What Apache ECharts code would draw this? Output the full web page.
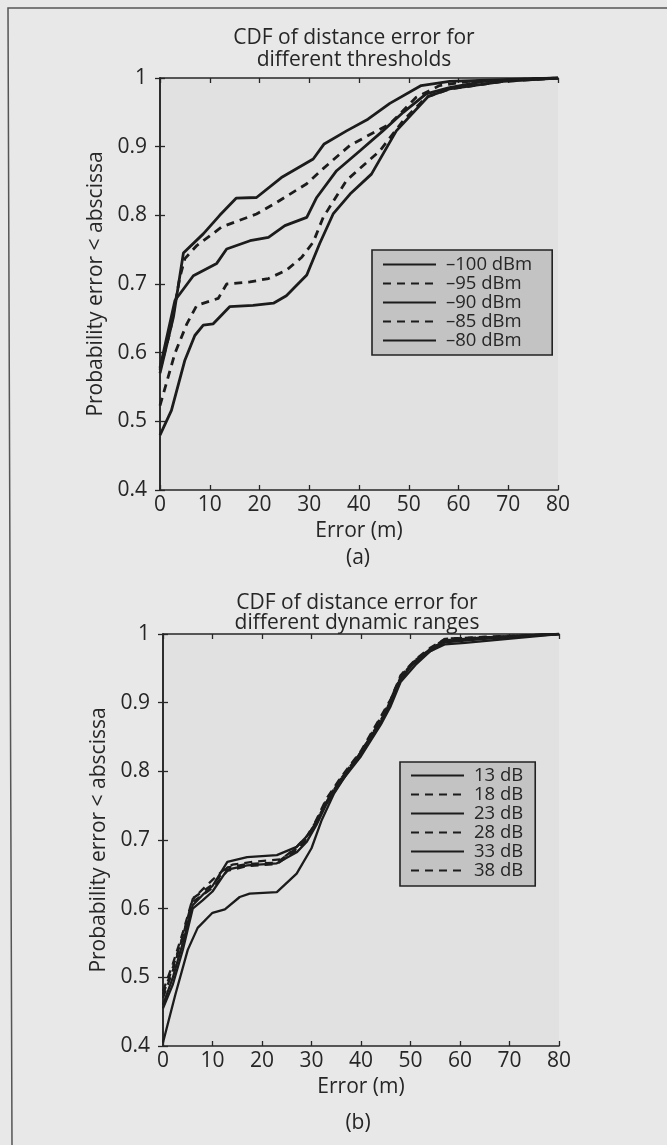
<!DOCTYPE html>
<html><head><meta charset="utf-8">
<script src="https://cdn.jsdelivr.net/npm/echarts@6/dist/echarts.min.js"></script>
<style>html,body{margin:0;padding:0;background:#e8e8e8}#c{width:667px;height:1145px}</style>
</head><body><div id="c"></div><script>
// ---- Data ----
const xTickValues = [0, 10, 20, 30, 40, 50, 60, 70, 80];
const yTickValues = [0.4, 0.5, 0.6, 0.7, 0.8, 0.9, 1];

const thresholdNames = ['–100 dBm', '–95 dBm', '–90 dBm', '–85 dBm', '–80 dBm'];
const thr100 = [[0,0.57],[2.7,0.652],[4.7,0.745],[8.7,0.773],[12,0.80],[15.3,0.825],[19.4,0.826],[24.4,0.855],[30.8,0.882],[33,0.904],[37.5,0.923],[41.8,0.94],[46.2,0.963],[52.5,0.989],[58.2,0.995],[80,1.0]];
const thr95 = [[0,0.575],[2,0.63],[4,0.71],[5,0.737],[7.4,0.756],[12.4,0.783],[19.4,0.802],[22.8,0.816],[29.5,0.846],[32.8,0.868],[38.2,0.902],[46.2,0.933],[51.5,0.972],[56.2,0.989],[62,0.995],[80,1.0]];
const thr90 = [[0,0.578],[3,0.676],[6.7,0.712],[11.4,0.73],[13.4,0.751],[18.1,0.763],[21.8,0.768],[25.1,0.785],[29.5,0.797],[31.5,0.826],[35.5,0.865],[40.2,0.894],[44.8,0.923],[48.9,0.95],[53.5,0.977],[58.2,0.986],[65,0.995],[80,1.0]];
const thr85 = [[0,0.523],[3,0.599],[5.4,0.642],[7.4,0.669],[11.7,0.679],[13.4,0.70],[18.1,0.703],[21.8,0.708],[25.4,0.72],[28.5,0.739],[30.8,0.761],[32.8,0.797],[37.5,0.851],[44.2,0.894],[48.9,0.938],[53.5,0.972],[58.2,0.984],[69,0.995],[80,1.0]];
const thr80 = [[0,0.48],[2.3,0.516],[5,0.589],[7,0.625],[8.7,0.64],[10.7,0.642],[14,0.667],[18.7,0.669],[22.8,0.672],[25.4,0.683],[29.5,0.713],[32.1,0.759],[34.8,0.802],[38.2,0.831],[42.5,0.86],[47.5,0.923],[53.9,0.973],[58.2,0.984],[69,0.995],[80,1.0]];

const rangeNames = ['13 dB', '18 dB', '23 dB', '28 dB', '33 dB', '38 dB'];
const dr13 = [[0,0.405],[2.5,0.475],[5,0.54],[7,0.572],[10,0.594],[12.5,0.599],[15.5,0.617],[17.5,0.622],[23,0.624],[27,0.651],[30,0.688],[32,0.728],[34.5,0.767],[38,0.806],[41,0.84],[44.5,0.878],[47,0.922],[50,0.953],[54,0.975],[57,0.985],[61,0.987],[80,1.0]];
const dr18 = [[0,0.47],[2,0.51],[4,0.56],[6,0.614],[8,0.628],[10,0.642],[12,0.655],[14,0.664],[18,0.668],[24,0.672],[27,0.69],[29,0.705],[31,0.728],[33,0.755],[36,0.79],[40,0.828],[44,0.875],[46,0.9],[48,0.938],[51,0.962],[54,0.978],[57,0.993],[65,0.996],[80,1.0]];
const dr23 = [[0,0.46],[2,0.5],[4,0.55],[6,0.605],[8,0.62],[10,0.633],[13,0.668],[17,0.675],[23,0.678],[27,0.69],[29,0.705],[31,0.725],[33,0.755],[36,0.788],[40,0.825],[44,0.87],[46,0.9],[48,0.935],[51,0.96],[54,0.978],[57,0.99],[65,0.995],[80,1.0]];
const dr28 = [[0,0.475],[2,0.515],[4,0.56],[6,0.61],[8,0.62],[10,0.63],[13,0.655],[17,0.662],[23,0.665],[27,0.685],[29,0.7],[31,0.73],[33,0.76],[36,0.792],[40,0.83],[44,0.88],[46,0.905],[48,0.94],[51,0.963],[54,0.98],[57,0.993],[65,0.995],[80,1.0]];
const dr33 = [[0,0.455],[2,0.49],[4,0.54],[6,0.6],[8,0.612],[10,0.625],[13,0.657],[17,0.663],[23,0.666],[27,0.682],[29,0.697],[31,0.722],[33,0.752],[36,0.785],[40,0.822],[44,0.868],[46,0.895],[48,0.93],[51,0.955],[54,0.975],[57,0.988],[65,0.993],[80,1.0]];
const dr38 = [[0,0.48],[2,0.52],[4,0.565],[6,0.615],[8,0.625],[10,0.635],[13,0.66],[17,0.665],[23,0.667],[27,0.688],[29,0.703],[31,0.727],[33,0.758],[36,0.79],[40,0.828],[44,0.878],[46,0.903],[48,0.938],[51,0.962],[54,0.978],[57,0.991],[65,0.995],[80,1.0]];

const thresholdData = [thr100, thr95, thr90, thr85, thr80];
const rangeData = [dr13, dr18, dr23, dr28, dr33, dr38];

// ---- Chart ----
const FONT = 'Open Sans';
const INK = '#262626';
const LINE = '#1c1c1c';
const chart = echarts.init(document.getElementById('c'));

const xMin = xTickValues[0], xMax = xTickValues[xTickValues.length - 1];
const yMin = yTickValues[0], yMax = yTickValues[yTickValues.length - 1];

function axesFor(g) {
  const common = {
    gridIndex: g, type: 'value', splitLine: { show: false },
    axisLine: { show: true, lineStyle: { color: INK, width: 1.6 } },
    axisTick: { show: true, inside: true, length: 5, lineStyle: { color: INK, width: 1.3 } }
  };
  const xs = [
    Object.assign({}, common, {
      position: 'bottom', min: xMin, max: xMax, interval: 10,
      axisLabel: { margin: 5, fontFamily: FONT, fontSize: 21, color: INK },
      name: 'Error (m)', nameLocation: 'middle', nameGap: 31,
      nameTextStyle: { fontFamily: FONT, fontSize: 21, color: INK }
    }),
    Object.assign({}, common, {
      position: 'top', min: xMin, max: xMax, interval: 10, axisLabel: { show: false }
    })
  ];
  const ys = [
    Object.assign({}, common, {
      position: 'left', min: yMin, max: yMax, interval: 0.1,
      axisLabel: { margin: 13, fontFamily: FONT, fontSize: 21, color: INK,
        formatter: v => String(Number(v.toFixed(1))) },
      name: 'Probability error < abscissa', nameLocation: 'middle', nameGap: 51, nameRotate: 90,
      nameTextStyle: { fontFamily: FONT, fontSize: 21, color: INK }
    }),
    Object.assign({}, common, {
      position: 'right', min: yMin, max: yMax, interval: 0.1, axisLabel: { show: false }
    })
  ];
  return { xs, ys };
}
const A = axesFor(0), B = axesFor(1);

function mkSeries(names, datas, axisIdx, width) {
  return names.map((n, i) => ({
    name: n, type: 'line', xAxisIndex: axisIdx, yAxisIndex: axisIdx,
    data: datas[i], symbol: 'none', animation: false, color: LINE,
    itemStyle: { color: LINE },
    lineStyle: { color: LINE, width: width, type: i % 2 === 1 ? [8, 6] : 'solid' }
  }));
}

const legendCommon = {
  orient: 'vertical', itemWidth: 53, itemHeight: 12, itemGap: 0,
  backgroundColor: '#c3c3c3', borderColor: '#222', borderWidth: 1.6, borderRadius: 0,
  itemStyle: { opacity: 0 },
  textStyle: { fontFamily: FONT, fontSize: 18.5, color: INK, lineHeight: 18.7, padding: [0, 0, 0, 5] },
  selectedMode: false
};

chart.setOption({
  backgroundColor: '#e8e8e8',
  animation: false,
  grid: [
    { left: 160, top: 78, width: 398, height: 412, show: true, backgroundColor: '#e1e1e1', borderWidth: 0 },
    { left: 163, top: 634, width: 396, height: 412, show: true, backgroundColor: '#e1e1e1', borderWidth: 0 }
  ],
  xAxis: [A.xs[0], B.xs[0], A.xs[1], B.xs[1]],
  yAxis: [A.ys[0], B.ys[0], A.ys[1], B.ys[1]],
  legend: [
    Object.assign({}, legendCommon, { data: thresholdNames, left: 372, top: 250, padding: [5, 20, 5, 10] }),
    Object.assign({}, legendCommon, { data: rangeNames, left: 400, top: 762, padding: [4, 12, 6, 10] })
  ],
  series: [].concat(
    mkSeries(thresholdNames, thresholdData, 0, 2.8),
    mkSeries(rangeNames, rangeData, 1, 2.3)
  ),
  graphic: [
    { type: 'polyline', shape: { points: [[12, 1145], [8, 8], [667, 8]] }, style: { fill: null, stroke: '#555', lineWidth: 1.5 } },
    { type: 'text', x: 354, y: 38, style: { text: 'CDF of distance error for', font: '21px "Open Sans"', fill: INK, textAlign: 'center', textVerticalAlign: 'middle' } },
    { type: 'text', x: 354, y: 60, style: { text: 'different thresholds', font: '21px "Open Sans"', fill: INK, textAlign: 'center', textVerticalAlign: 'middle' } },
    { type: 'text', x: 358, y: 558, style: { text: '(a)', font: '21px "Open Sans"', fill: INK, textAlign: 'center', textVerticalAlign: 'middle' } },
    { type: 'text', x: 357, y: 603, style: { text: 'CDF of distance error for', font: '21px "Open Sans"', fill: INK, textAlign: 'center', textVerticalAlign: 'middle' } },
    { type: 'text', x: 357, y: 623, style: { text: 'different dynamic ranges', font: '21px "Open Sans"', fill: INK, textAlign: 'center', textVerticalAlign: 'middle' } },
    { type: 'text', x: 358, y: 1123, style: { text: '(b)', font: '21px "Open Sans"', fill: INK, textAlign: 'center', textVerticalAlign: 'middle' } }
  ]
});
</script></body></html>
